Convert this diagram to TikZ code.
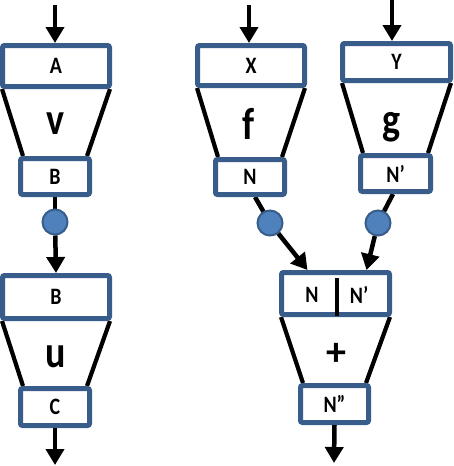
\documentclass[tikz,border=0pt]{standalone}
\usepackage{fontspec}
\setmainfont{Carlito}
\usetikzlibrary{arrows.meta,calc,backgrounds}
\definecolor{boxblue}{RGB}{56,93,138}
\definecolor{dotfill}{RGB}{79,129,189}
\newcommand{\tallt}[1]{\scalebox{0.95}[1.12]{#1}}
\begin{document}
\begin{tikzpicture}[x=1pt,y=-1pt,
  box/.style={draw=boxblue, line width=5pt, fill=white, rounded corners=2pt,
    inner sep=0pt, font=\fontsize{21}{21}\selectfont\bfseries},
  bigbox/.style={box, minimum width=107pt, minimum height=41pt},
  smallbox/.style={box, minimum width=69pt, minimum height=36pt},
  dot/.style={circle, draw=boxblue, line width=2pt, fill=dotfill, minimum size=25pt, inner sep=0pt},
  fname/.style={inner sep=0pt, font=\fontsize{40}{40}\selectfont\bfseries},
  lbl/.style={inner sep=0pt, font=\fontsize{21}{21}\selectfont\bfseries},
  side/.style={line width=4.2pt, black},
  conn/.style={line width=4.5pt, black},
  arr/.style={conn, -{Triangle[width=18pt,length=16pt]}}
]
\useasboundingbox (0,0) rectangle (454,466);
% left column
\node[bigbox] (A) at (56,66) {\tallt{A}};
\node[smallbox] (B) at (55,176.5) {\tallt{B}};
\node[fname] (v) at (55,124) {\tallt{v}};
\node[dot] (c1) at (55,222) {};
\node[bigbox, minimum height=43pt] (B2) at (56,297) {\tallt{B}};
\node[smallbox, minimum height=37pt] (C) at (55,407) {\tallt{C}};
\node[fname] (u) at (56,357) {\tallt{u}};
% f column
\node[bigbox, minimum height=40pt] (X) at (251,65.5) {\tallt{X}};
\node[smallbox, minimum height=35pt] (N) at (250,177) {\tallt{N}};
\node[fname] (f) at (249,124) {\tallt{f}};
\node[dot] (c2) at (270,223) {};
% g column
\node[bigbox, minimum width=108pt, minimum height=37pt] (Y) at (396.5,62) {\tallt{Y}};
\node[smallbox, minimum width=70pt] (Np) at (395.5,173.5) {\tallt{N’}};
\node[fname] (g) at (392,127) {\tallt{g}};
\node[dot] (c3) at (378,223) {};
% plus
\node[bigbox, minimum width=108pt, minimum height=42pt] (NN) at (335.5,293.5) {};
\node[lbl] (NNa) at (312,295) {\tallt{N}};
\node[lbl] (NNb) at (359,295) {\tallt{N’}};
\node[smallbox, minimum width=68pt, minimum height=37pt] (Npp) at (334.5,404) {\tallt{N”}};
\node[fname] (plus) at (336,354) {+};
% free ends
\coordinate (inA) at (55,5);
\coordinate (inX) at (249,5);
\coordinate (inY) at (392,0);
\coordinate (outC) at (55,465);
\coordinate (outN) at (334,463);
\draw[line width=4.5pt] ($(NN.center)+(1.5,-15.5)$) -- ($(NN.center)+(1.5,22.5)$);
\begin{scope}[on background layer]
  \foreach \top/\bot in {A/B, B2/C, X/N, Y/Np, NN/Npp}{
    \draw[side] ($(\top.south west)+(2,0)$) -- ($(\bot.north west)+(5,0)$);
    \draw[side] ($(\top.south east)+(-2,0)$) -- ($(\bot.north east)+(-5,0)$);
  }
  \draw[conn] (B.south) -- (c1.center);
  \draw[conn] ($(N.south)+(5,0)$) -- (c2.center);
  \draw[conn] ($(Np.south)+(-2.5,0)$) -- (c3.center);
\end{scope}
\draw[arr] (inA) -- (inA |- A.north);
\draw[arr] (inX) -- (inX |- X.north);
\draw[arr] (inY) -- (inY |- Y.north);
\draw[arr] (c1) -- (B2.north);
\draw[arr] (c2) -- ($(NN.north)+(-28,0)$);
\draw[arr] (c3) -- ($(NN.north)+(31,0)$);
\draw[arr] (C.south) -- (outC);
\draw[arr] (Npp.south) -- (outN);
\end{tikzpicture}
\end{document}
